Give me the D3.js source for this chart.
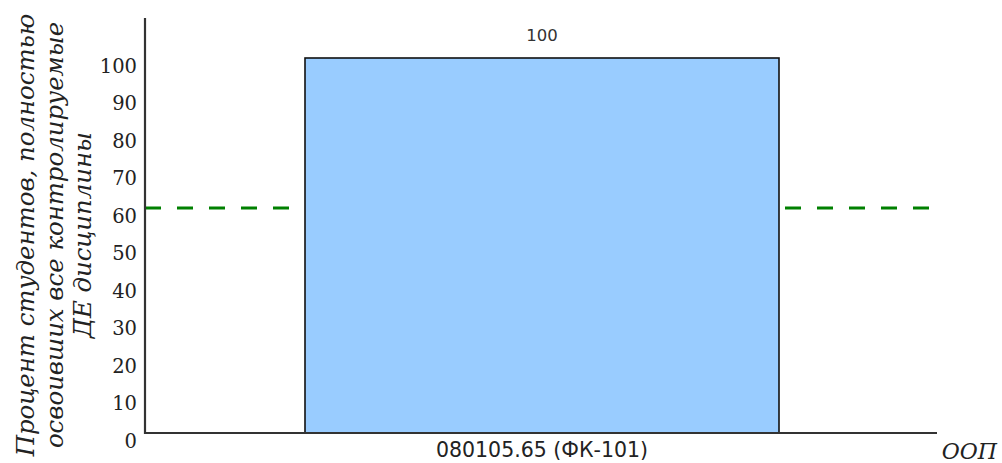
<!DOCTYPE html>
<html>
<head>
<meta charset="utf-8">
<script src="https://cdn.jsdelivr.net/npm/d3@7"></script>
<style>
  html, body { margin: 0; padding: 0; background: #fff; }
  svg { display: block; }
</style>
</head>
<body>
<svg id="chart" width="1002" height="463"></svg>
<script>
const categories = ["080105.65 (ФК-101)"];
const values = [100];
const valueLabels = ["100"];
const thresholdValue = 60;
const yTicks = [0, 10, 20, 30, 40, 50, 60, 70, 80, 90, 100];
const yTitleLines = ["Процент студентов, полностью", "освоивших все контролируемые", "ДЕ дисциплины"];
const xTitle = "ООП";

const svg = d3.select("#chart");
const x0 = 145, x1 = 937, yBase = 433, yTop = 58;

const x = d3.scaleBand().domain(categories).range([x0 + 2, x1]).padding(0.25);
const y = d3.scaleLinear().domain([0, 100]).range([yBase, yTop]);

// threshold dashed line (behind bars)
svg.append("line")
  .attr("x1", x0).attr("x2", 930)
  .attr("y1", y(thresholdValue)).attr("y2", y(thresholdValue))
  .attr("stroke", "#008000").attr("stroke-width", 3.2)
  .attr("stroke-dasharray", "16,16");

// bars
svg.selectAll("rect.bar").data(categories).enter().append("rect")
  .attr("class", "bar")
  .attr("x", d => x(d))
  .attr("y", (d, i) => y(values[i]))
  .attr("width", x.bandwidth())
  .attr("height", (d, i) => yBase - y(values[i]))
  .attr("fill", "#99ccff")
  .attr("stroke", "#111")
  .attr("stroke-width", 1.6);

// value labels
svg.selectAll("text.val").data(categories).enter().append("text")
  .attr("class", "val")
  .attr("x", d => x(d) + x.bandwidth() / 2)
  .attr("y", (d, i) => y(values[i]) - 17)
  .attr("text-anchor", "middle")
  .attr("font-family", "DejaVu Sans")
  .attr("font-size", 16.5)
  .attr("fill", "#333")
  .text((d, i) => valueLabels[i]);

// y axis labels
const yAxis = d3.axisLeft(y).tickValues(yTicks).tickSize(0).tickPadding(8).tickFormat(d3.format("d"));
const gy = svg.append("g").attr("transform", `translate(${x0},8)`).call(yAxis);
gy.select(".domain").remove();
gy.selectAll("text")
  .attr("font-family", "DejaVu Serif")
  .attr("font-size", 19.5)
  .attr("fill", "#222");

// x axis labels
const xAxis = d3.axisBottom(x).tickSize(0).tickPadding(9);
const gx = svg.append("g").attr("transform", `translate(0,${yBase})`).call(xAxis);
gx.select(".domain").remove();
gx.selectAll("text")
  .attr("font-family", "DejaVu Sans")
  .attr("font-size", 20.5)
  .attr("fill", "#222");

// axis lines
svg.append("line").attr("x1", x0).attr("x2", x0).attr("y1", 18).attr("y2", yBase + 1)
  .attr("stroke", "#333").attr("stroke-width", 2.2);
svg.append("line").attr("x1", x0 - 1).attr("x2", x1).attr("y1", yBase).attr("y2", yBase)
  .attr("stroke", "#333").attr("stroke-width", 2.2);

// y title
const yt = svg.append("text")
  .attr("transform", "translate(0,235) rotate(-90)")
  .attr("text-anchor", "middle")
  .attr("font-family", "DejaVu Serif")
  .attr("font-style", "italic")
  .attr("font-size", 24.4)
  .attr("fill", "#222");
yTitleLines.forEach((t, i) => {
  yt.append("tspan").attr("x", 0).attr("y", 34 + i * 28.5).text(t);
});

// x title
svg.append("text")
  .attr("x", 997).attr("y", 459)
  .attr("text-anchor", "end")
  .attr("font-family", "DejaVu Serif")
  .attr("font-style", "italic")
  .attr("font-size", 22)
  .attr("fill", "#222")
  .text(xTitle);
</script>
</body>
</html>
